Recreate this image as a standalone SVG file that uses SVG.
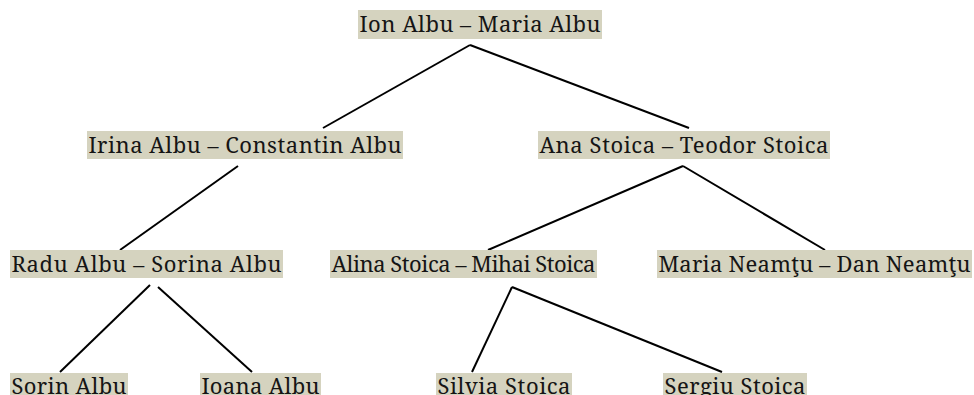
<svg xmlns="http://www.w3.org/2000/svg" width="974" height="395" viewBox="0 0 974 395">
<style>
.bg{fill:#d5d3bf}
.t{font-family:"Noto Serif","DejaVu Serif",serif;font-size:22px;fill:#151515}
.c line{stroke:#000;stroke-width:2}
</style>
<rect width="974" height="395" fill="#fff"/>
<g class="c" id="connectors">
<line x1="470" y1="45" x2="323" y2="128"/>
<line x1="470" y1="45" x2="689" y2="128"/>
<line x1="238" y1="166" x2="120" y2="250"/>
<line x1="683" y1="166" x2="488" y2="250"/>
<line x1="683" y1="166" x2="825" y2="250"/>
<line x1="150" y1="285" x2="60" y2="372"/>
<line x1="158" y1="287" x2="252" y2="372"/>
<line x1="512" y1="287" x2="472" y2="372"/>
<line x1="512" y1="287" x2="722" y2="372"/>
</g>
<g id="n1"><rect class="bg" x="358" y="10" width="244" height="29"/><text class="t" x="359.5" y="32" textLength="241" lengthAdjust="spacing">Ion Albu – Maria Albu</text></g>
<g id="n2"><rect class="bg" x="87" y="131" width="316" height="28"/><text class="t" x="88.5" y="153" textLength="313" lengthAdjust="spacing">Irina Albu – Constantin Albu</text></g>
<g id="n3"><rect class="bg" x="538" y="131" width="292" height="28"/><text class="t" x="539.5" y="153" textLength="289" lengthAdjust="spacing">Ana Stoica – Teodor Stoica</text></g>
<g id="n4"><rect class="bg" x="10" y="250" width="273" height="28"/><text class="t" x="11.5" y="272" textLength="270" lengthAdjust="spacing">Radu Albu – Sorina Albu</text></g>
<g id="n5"><rect class="bg" x="330" y="250" width="267" height="28"/><text class="t" x="331.5" y="272" textLength="264" lengthAdjust="spacing">Alina Stoica – Mihai Stoica</text></g>
<g id="n6"><rect class="bg" x="657" y="250" width="315" height="28"/><text class="t" x="658.5" y="272" textLength="312" lengthAdjust="spacing">Maria Neamţu – Dan Neamţu</text></g>
<g id="n7"><rect class="bg" x="10" y="373" width="118" height="28"/><text class="t" x="11.5" y="394" textLength="115" lengthAdjust="spacing">Sorin Albu</text></g>
<g id="n8"><rect class="bg" x="200" y="373" width="121" height="28"/><text class="t" x="201.5" y="394" textLength="118" lengthAdjust="spacing">Ioana Albu</text></g>
<g id="n9"><rect class="bg" x="436" y="373" width="136" height="28"/><text class="t" x="437.5" y="394" textLength="133" lengthAdjust="spacing">Silvia Stoica</text></g>
<g id="n10"><rect class="bg" x="663" y="373" width="144" height="28"/><text class="t" x="664.5" y="394" textLength="141" lengthAdjust="spacing">Sergiu Stoica</text></g>
</svg>
